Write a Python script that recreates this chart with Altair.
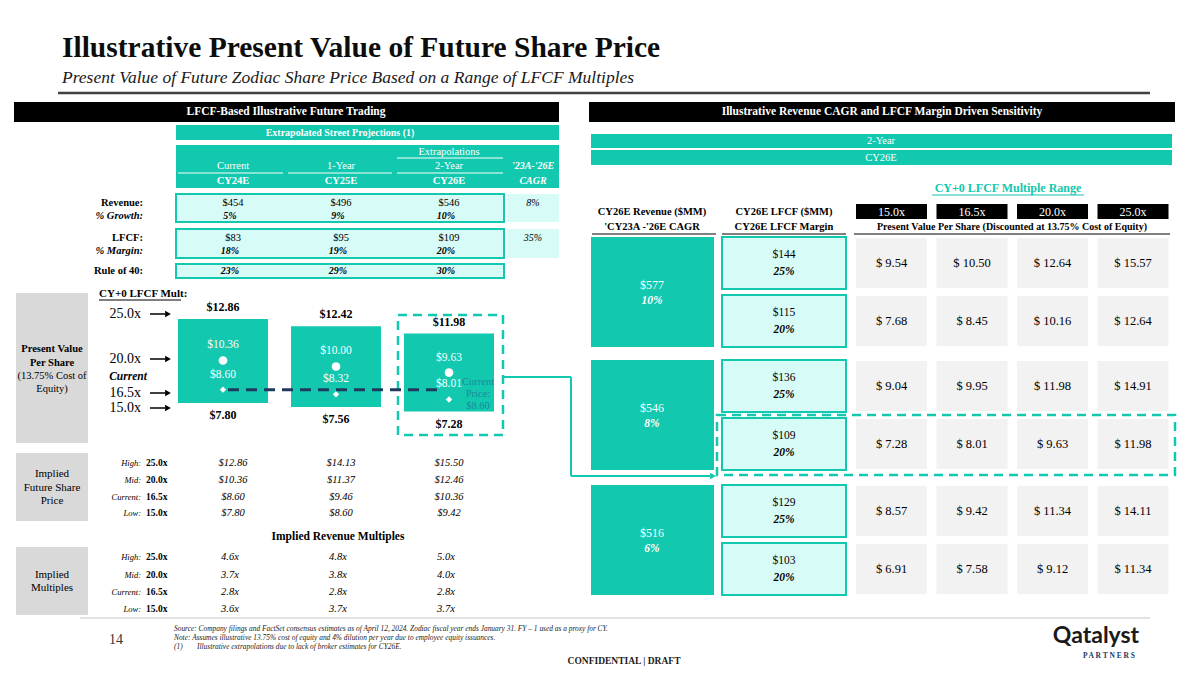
import altair as alt
import pandas as pd

# ---------------- data ----------------
periods = ["Current", "1-Year", "2-Year"]
years = ["CY24E", "CY25E", "CY26E"]
revenue = [454, 496, 546]
rev_growth = [5, 9, 10]
lfcf = [83, 95, 109]
lfcf_margin = [18, 19, 20]
rule_of_40 = [23, 29, 30]
rev_cagr = 8
lfcf_cagr = 35

mult_labels = ["High:", "Mid:", "Current:", "Low:"]
mult_values = [25.0, 20.0, 16.5, 15.0]

pv_high = [12.86, 12.42, 11.98]
pv_mid = [10.36, 10.00, 9.63]
pv_current = [8.60, 8.32, 8.01]
pv_low = [7.80, 7.56, 7.28]
current_price = 8.60

future_price = [[12.86, 14.13, 15.50], [10.36, 11.37, 12.46],
                [8.60, 9.46, 10.36], [7.80, 8.60, 9.42]]
implied_rev_mult = [[4.6, 4.8, 5.0], [3.7, 3.8, 4.0],
                    [2.8, 2.8, 2.8], [3.6, 3.7, 3.7]]

sens_revenue = [577, 546, 516]
sens_cagr = [10, 8, 6]
sens_lfcf = [144, 115, 136, 109, 129, 103]
sens_margin = [25, 20, 25, 20, 25, 20]
sens_mults = [15.0, 16.5, 20.0, 25.0]
sens_pv = [[9.54, 10.50, 12.64, 15.57], [7.68, 8.45, 10.16, 12.64],
           [9.04, 9.95, 11.98, 14.91], [7.28, 8.01, 9.63, 11.98],
           [8.57, 9.42, 11.34, 14.11], [6.91, 7.58, 9.12, 11.34]]

# ---------------- style / layout ----------------
SERIF = "Liberation Serif"
TEAL = "#12C8AE"
LTEAL = "#D7FBF6"
CELL = "#F2F2F2"
LGRAY = "#D9D9D9"
NAVY = "#1F3A5F"
CP_TEXT = "#1A8A9C"

XS = alt.Scale(domain=[0, 1200], range=[-8, 1192], nice=False, zero=False)
YS = alt.Scale(domain=[0, 675], range=[-8, 667], nice=False, zero=False)
PS = alt.Scale(domain=[7.28, 12.86], range=[411.6 - 8, 319 - 8], nice=False, zero=False)


def X(f):
    return alt.X(f"{f}:Q", scale=XS, axis=None)


def Y(f):
    return alt.Y(f"{f}:Q", scale=YS, axis=None)


def P(f):
    return alt.Y(f"{f}:Q", scale=PS, axis=None)


texts, rects, drects, hrules, vrules, tris = [], [], [], [], [], []


def T(x, y, s, size=11, weight="normal", italic=False, color="#000000", align="center", font=SERIF):
    texts.append(dict(x=x, y=y, t=s, size=size, w=weight, st="italic" if italic else "normal",
                      c=color, a=align, f=font))


def R(x, x2, y, y2, fill, stroke=None, sw=0):
    rects.append(dict(x=x, x2=x2, y=y, y2=y2, fill=fill, stroke=stroke or fill, sw=sw))


def H(x, x2, y, color="#000000", sw=1):
    hrules.append(dict(x=x, x2=x2, y=y, c=color, sw=sw))


def V(x, y, y2, color="#000000", sw=1):
    vrules.append(dict(x=x, y=y, y2=y2, c=color, sw=sw))


# ---- title ----
T(62, 48, "Illustrative Present Value of Future Share Price", 29.5, "bold", align="left", color="#0d0d0d")
T(62, 78, "Present Value of Future Zodiac Share Price Based on a Range of LFCF Multiples", 17.5,
  italic=True, align="left", color="#1a1a1a")
H(58, 1150, 93, "#404040", 2.5)

# ---- section headers ----
R(14, 559, 102, 122, "#000000")
T(286, 112, "LFCF-Based Illustrative Future Trading", 11.5, "bold", color="#ffffff")
R(589, 1175, 102, 122, "#000000")
T(882, 112, "Illustrative Revenue CAGR and LFCF Margin Driven Sensitivity", 11.5, "bold", color="#ffffff")

# ---- left: projections table ----
lcols = [233, 341, 449]
cagr_x = 533
R(176, 559, 125, 140, TEAL)
T(340, 133, "Extrapolated Street Projections (1)", 10, "bold", color="#ffffff")
R(176, 559, 145, 188, TEAL)
T(449, 152, "Extrapolations", 10.5, color="#ffffff")
H(397, 503, 158, "#ffffff", 1)
ul = [(178, 283), (288, 392), (397, 503)]
for i in range(3):
    T(lcols[i], 166, periods[i], 10.5, color="#ffffff")
    H(ul[i][0], ul[i][1], 173, "#ffffff", 1)
    T(lcols[i], 181, years[i], 10.5, "bold", color="#ffffff")
T(cagr_x, 166, "'23A-'26E", 10, "bold", True, "#ffffff")
T(cagr_x, 181, "CAGR", 10, "bold", True, "#ffffff")

R(176, 504, 194, 222, LTEAL, TEAL, 2)
R(507, 559, 194, 222, LTEAL)
R(176, 504, 229, 258, LTEAL, TEAL, 2)
R(507, 559, 229, 258, LTEAL)
R(176, 504, 264, 278, LTEAL, TEAL, 2)

T(143, 203, "Revenue:", 10.5, "bold", align="right")
T(143, 216, "% Growth:", 10.5, "bold", True, align="right")
T(143, 238, "LFCF:", 10.5, "bold", align="right")
T(143, 251, "% Margin:", 10.5, "bold", True, align="right")
T(143, 271, "Rule of 40:", 10.5, "bold", align="right")
for i in range(3):
    T(lcols[i], 203, f"${revenue[i]}", 10.5)
    T(lcols[i] - 3, 216, f"{rev_growth[i]}%", 10, "bold", True)
    T(lcols[i], 238, f"${lfcf[i]}", 10.5)
    T(lcols[i] - 3, 251, f"{lfcf_margin[i]}%", 10, "bold", True)
    T(lcols[i] - 3, 271, f"{rule_of_40[i]}%", 10, "bold", True)
T(cagr_x, 203, f"{rev_cagr}%", 10, italic=True)
T(cagr_x, 238, f"{lfcf_cagr}%", 10, italic=True)

# ---- left: floating bar area ----
T(99, 294, "CY+0 LFCF Mult:", 11, "bold", align="left")
H(99, 181, 300, "#000000", 1)
R(16, 88, 293, 443, LGRAY)
T(52, 349, "Present Value", 10.5, "bold")
T(52, 363, "Per Share", 10.5, "bold")
T(52, 376, "(13.75% Cost of", 10.5)
T(52, 389, "Equity)", 10.5)

arrow_y = [314, 359, 393, 408]
for yy, m in zip(arrow_y, [25.0, 20.0, 16.5, 15.0]):
    T(141, yy, f"{m:.1f}x", 14, align="right")
    H(150, 165, yy, "#000000", 1.5)
    tris.append(dict(x=168, y=yy, c="#000000"))
T(128, 377, "Current", 11.5, "bold", True)

box_x0 = [178, 291, 404]
box_w = 90
fb = pd.DataFrame({
    "x": box_x0,
    "x2": [b + box_w for b in box_x0],
    "xc": [b + box_w / 2 for b in box_x0],
    "high": pv_high, "mid": pv_mid, "cur": pv_current, "low": pv_low,
})

T(478, 382, "Current", 10.5, color=CP_TEXT)
T(478, 394, "Price:", 10.5, color=CP_TEXT)
T(478, 406, f"${current_price:.2f}", 10.5, color=CP_TEXT)
drects.append(dict(x=398, x2=503, y=315, y2=435))

# connector to sensitivity table
H(503, 571, 377, TEAL, 2)
V(571, 377, 476, TEAL, 2)
H(571, 710, 476, TEAL, 2)
tris.append(dict(x=713, y=476, c=TEAL))

# ---- left: implied future share price ----
R(16, 88, 453, 521, LGRAY)
T(52, 474, "Implied", 11)
T(52, 488, "Future Share", 11)
T(52, 501, "Price", 11)
rows_fp = [463, 480, 497, 513]
for r in range(4):
    T(141, rows_fp[r], mult_labels[r], 8.5, italic=True, align="right")
    T(146, rows_fp[r], f"{mult_values[r]:.1f}x", 9.5, "bold", align="left")
    for c in range(3):
        T(lcols[c], rows_fp[r], f"${future_price[r][c]:.2f}", 10.5, italic=True)

T(338, 537, "Implied Revenue Multiples", 11.5, "bold")
R(16, 88, 547, 615, LGRAY)
T(52, 575, "Implied", 11)
T(52, 588, "Multiples", 11)
rows_im = [557, 575, 592, 609]
for r in range(4):
    T(141, rows_im[r], mult_labels[r], 8.5, italic=True, align="right")
    T(146, rows_im[r], f"{mult_values[r]:.1f}x", 9.5, "bold", align="left")
    for c in range(3):
        T(lcols[c] - 3, rows_im[r], f"{implied_rev_mult[r][c]:.1f}x", 10.5, italic=True)

# ---- right: sensitivity ----
R(591, 1172, 134, 148, TEAL)
T(881, 141, "2-Year", 10.5, color="#ffffff")
R(591, 1172, 150, 165, TEAL)
T(881, 158, "CY26E", 10.5, color="#ffffff")

T(1008, 188, "CY+0 LFCF Multiple Range", 12, "bold", color=TEAL)
H(932, 1084, 195, TEAL, 1)

rev_x = (591, 714)
lf_x = (722, 846)
T(652, 212, "CY26E Revenue ($MM)", 10.5, "bold")
T(784, 212, "CY26E LFCF ($MM)", 10.5, "bold")
T(652, 227, "'CY23A -'26E CAGR", 10.5, "bold")
T(784, 227, "CY26E LFCF Margin", 10.5, "bold")
T(1012, 227, "Present Value Per Share (Discounted at 13.75% Cost of Equity)", 10, "bold")
H(592, 716, 234, "#000000", 1)
H(722, 846, 234, "#000000", 1)
H(854, 1170, 234, "#000000", 1)

cell_x0 = [856, 936.5, 1017, 1097.5]
cell_w = 71
for j in range(4):
    R(cell_x0[j], cell_x0[j] + cell_w, 204, 219, "#000000")
    T(cell_x0[j] + cell_w / 2, 212, f"{sens_mults[j]:.1f}x", 12, color="#ffffff")

group_top = [237, 360, 485]
row_h = 52
row_gap = 6
for g in range(3):
    gt = group_top[g]
    gb = gt + 2 * row_h + row_gap
    R(rev_x[0], rev_x[1], gt, gb, TEAL)
    mid = (gt + gb) / 2
    T(652, mid - 7, f"${sens_revenue[g]}", 12, color="#ffffff")
    T(652, mid + 9, f"{sens_cagr[g]}%", 11.5, "bold", True, "#ffffff")
    for k in range(2):
        r = 2 * g + k
        y0 = gt + k * (row_h + row_gap)
        y1 = y0 + row_h
        ym = (y0 + y1) / 2
        R(lf_x[0], lf_x[1], y0, y1, LTEAL, TEAL, 2)
        T(784, ym - 8, f"${sens_lfcf[r]}", 11.5)
        T(784, ym + 9, f"{sens_margin[r]}%", 11.5, "bold", True)
        for j in range(4):
            R(cell_x0[j], cell_x0[j] + cell_w, y0 + 1, y1 - 1, CELL)
            T(cell_x0[j] + cell_w / 2, ym, f"$ {sens_pv[r][j]:.2f}", 12.5)

drects.append(dict(x=717, x2=1175, y=415, y2=475))

# ---- footer ----
H(80, 1150, 618, LGRAY, 1.5)
T(116, 640, "14", 14, color="#333333")
T(174, 629, "Source: Company filings and FactSet consensus estimates as of April 12, 2024. Zodiac fiscal year ends "
             "January 31. FY \u2013 1 used as a proxy for CY.", 7.4, italic=True, align="left", color="#222222")
T(174, 638, "Note: Assumes illustrative 13.75% cost of equity and 4% dilution per year due to employee equity issuances.",
  7.4, italic=True, align="left", color="#222222")
T(174, 647, "(1)", 7.4, italic=True, align="left", color="#222222")
T(197, 647, "Illustrative extrapolations due to lack of broker estimates for CY26E.", 7.4, italic=True, align="left",
  color="#222222")
T(624, 661, "CONFIDENTIAL | DRAFT", 9.5, "bold", color="#1a1a1a")
T(1096, 636, "Qatalyst", 23, "bold", color="#1a1a1a", font="Lato")
T(1109, 656, "P A R T N E R S", 7.5, "bold", color="#1F3864")

# ---------------- build layers ----------------
layers = []
rdf = pd.DataFrame(rects)
layers.append(alt.Chart(rdf).mark_rect().encode(
    x=X("x"), x2="x2", y=Y("y"), y2="y2",
    fill=alt.Fill("fill:N", scale=None),
    stroke=alt.Stroke("stroke:N", scale=None),
    strokeWidth=alt.StrokeWidth("sw:Q", scale=None)))

# floating present-value boxes on a price scale
base = alt.Chart(fb)
layers.append(base.mark_rect(color=TEAL).encode(x=X("x"), x2="x2", y=P("high"), y2="low"))

layers.append(alt.Chart(pd.DataFrame(hrules)).mark_rule().encode(
    x=X("x"), x2="x2", y=Y("y"),
    color=alt.Color("c:N", scale=None), strokeWidth=alt.StrokeWidth("sw:Q", scale=None)))
layers.append(alt.Chart(pd.DataFrame(vrules)).mark_rule().encode(
    x=X("x"), y=Y("y"), y2="y2",
    color=alt.Color("c:N", scale=None), strokeWidth=alt.StrokeWidth("sw:Q", scale=None)))
layers.append(alt.Chart(pd.DataFrame(drects)).mark_rect(
    fillOpacity=0, stroke=TEAL, strokeWidth=2.5, strokeDash=[9, 6]).encode(
    x=X("x"), x2="x2", y=Y("y"), y2="y2"))
layers.append(alt.Chart(pd.DataFrame(tris)).mark_point(
    shape="triangle-right", filled=True, size=45, opacity=1).encode(
    x=X("x"), y=Y("y"), color=alt.Color("c:N", scale=None)))

cp = pd.DataFrame({"x": [box_x0[0] + box_w / 2 + 5], "x2": [443], "p": [current_price]})
layers.append(alt.Chart(cp).mark_rule(color=NAVY, strokeWidth=3, strokeDash=[11, 7]).encode(
    x=X("x"), x2="x2", y=P("p")))
layers.append(base.mark_point(shape="circle", filled=True, color="#ffffff", size=75, opacity=1).encode(
    x=X("xc"), y=P("mid")))
layers.append(base.mark_point(shape="diamond", filled=True, color="#ffffff", size=40, opacity=1).encode(
    x=X("xc"), y=P("cur")))
layers.append(base.mark_text(dy=-12, font=SERIF, fontWeight="bold", fontSize=12, color="#000000").encode(
    x=X("xc"), y=P("high"), text=alt.Text("high:Q", format="$.2f")))
layers.append(base.mark_text(dy=12, font=SERIF, fontWeight="bold", fontSize=12, color="#000000").encode(
    x=X("xc"), y=P("low"), text=alt.Text("low:Q", format="$.2f")))
layers.append(base.mark_text(dy=-15, font=SERIF, fontSize=11.5, color="#ffffff").encode(
    x=X("xc"), y=P("mid"), text=alt.Text("mid:Q", format="$.2f")))
layers.append(base.mark_text(dy=-15, font=SERIF, fontSize=11.5, color="#ffffff").encode(
    x=X("xc"), y=P("cur"), text=alt.Text("cur:Q", format="$.2f")))

tdf = pd.DataFrame(texts)
for (w, st, a, f), g in tdf.groupby(["w", "st", "a", "f"]):
    layers.append(alt.Chart(g).mark_text(
        fontWeight=w, fontStyle=st, align=a, baseline="middle", font=f).encode(
        x=X("x"), y=Y("y"), text="t:N",
        size=alt.Size("size:Q", scale=None), color=alt.Color("c:N", scale=None)))

chart = alt.layer(*layers).resolve_scale(y="independent").properties(
    width=1184, height=659, padding=0, autosize="none", background="#ffffff"
).configure_view(stroke=None)

chart.save("out.html", embed_options={"renderer": "svg", "actions": False})
